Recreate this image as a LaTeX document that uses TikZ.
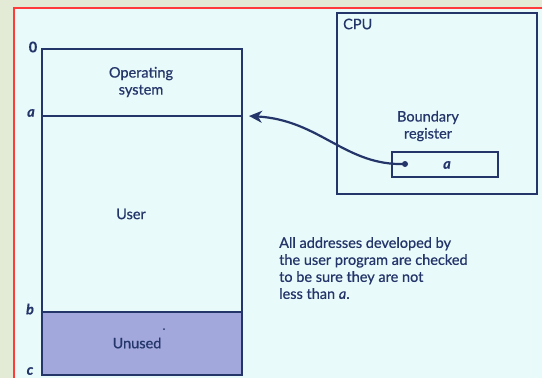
\documentclass[tikz,border=0pt]{standalone}
\usepackage{fontspec}
\setmainfont{Lato}[FakeBold=0.6]
\usetikzlibrary{arrows.meta}
\definecolor{outerbg}{HTML}{E3EBD6}
\definecolor{panelbg}{HTML}{E8FAFA}
\definecolor{frame}{HTML}{FF3B3B}
\definecolor{ink}{HTML}{24356A}
\definecolor{unusedfill}{HTML}{A3A8DC}
\tikzset{
  box/.style={draw=ink, line width=1.1pt},
  lbl/.style={text=ink, font=\fontsize{14.5}{16}\selectfont, inner sep=0pt},
  addr/.style={text=ink, font=\fontsize{14.5}{16}\selectfont\itshape\bfseries, inner sep=0pt},
}
\begin{document}
\begin{tikzpicture}[x=1pt, y=-1pt]
  % canvas and panel
  \fill[outerbg] (0,0) rectangle (542,378);
  \useasboundingbox (0,0) rectangle (542,378);
  \fill[panelbg] (14,8) rectangle (542,378);
  \draw[frame, line width=1.5pt] (14,378) -- (14,8) -- (542,8);

  % memory map
  \fill[unusedfill] (42,312) rectangle (242,375);
  \draw[box] (42,49) rectangle (242,375);
  \coordinate (aL) at (42,116);
  \coordinate (aR) at (242,116);
  \coordinate (bL) at (42,312);
  \coordinate (bR) at (242,312);
  \draw[box] (aL) -- (aR);
  \draw[box] (bL) -- (bR);

  \node[lbl, font=\fontsize{14.5}{16}\selectfont\bfseries] (z) at (33,47) {0};
  \node[addr] (la) at (31,113) {a};
  \node[addr] (lb) at (30,309) {b};
  \node[addr] (lc) at (30,371) {c};

  \node[lbl, align=center] (os) at (141,82) {Operating\\[1pt]system};
  \node[lbl] (user) at (131,214) {User};
  \node[lbl] (unused) at (137,343) {Unused};
  \fill[ink] (164,329) circle (1pt);

  % CPU with the boundary register
  \draw[box] (337,13) rectangle (537,194);
  \node[lbl, anchor=west] (cpu) at (343,24) {CPU};
  \node[lbl, align=center] (br) at (428,126) {Boundary\\[1pt]register};
  \node[box, minimum width=106pt, minimum height=25pt, inner sep=0pt] (reg) at (445,164.5) {};
  \node[addr] (ra) at (447,165) {a};
  \coordinate (dot) at (405,164);
  \fill[ink] (dot) circle (3pt);

  % pointer from the register to address a
  \coordinate (tip) at (249,116);
  \draw[ink, line width=2.2pt, -{Stealth[length=13pt, width=12pt, inset=4pt]}]
    (dot) .. controls (345,166) and (320,120) .. (tip);

  % note
  \node[lbl, anchor=north west, align=left, font=\fontsize{14.5}{17}\selectfont] (note) at (279,237)
    {All addresses developed by\\the user program are checked\\to be sure they are not\\less than \textit{a}.};
\end{tikzpicture}
\end{document}
